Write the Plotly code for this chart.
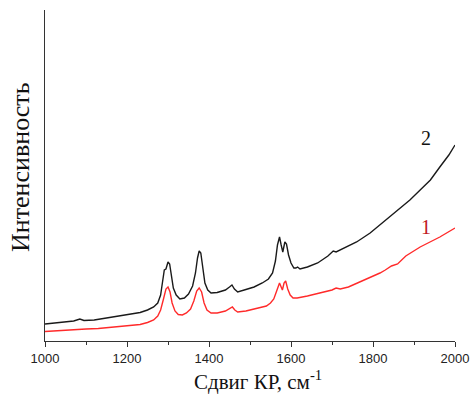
import plotly.graph_objects as go

# Raman shift (cm^-1) and intensity (arbitrary units)
shift_2 = [1000, 1040, 1070, 1085, 1095, 1120, 1160, 1200, 1232, 1250, 1265, 1275, 1282, 1287,
           1291, 1295, 1300, 1304, 1308, 1313, 1320, 1329, 1340, 1350, 1360, 1367, 1372, 1376,
           1380, 1385, 1390, 1397, 1405, 1420, 1440, 1450, 1456, 1462, 1470, 1490, 1510, 1530,
           1545, 1555, 1562, 1567, 1572, 1576, 1580, 1585, 1589, 1594, 1600, 1607, 1612, 1616,
           1622, 1640, 1665, 1690, 1703, 1710, 1720, 1740, 1760, 1793, 1817, 1840, 1866, 1890,
           1915, 1940, 1963, 1985, 2000]
intensity_2 = [17, 18.5, 20, 22, 20.5, 21, 23.5, 26.5, 28.5, 31, 34, 38, 46, 60,
               71, 72, 79, 77, 66, 53, 46, 42, 43, 47, 55, 68, 83, 90,
               88, 72, 58, 51, 48, 48.5, 51, 54, 56, 52, 49, 51.5, 54, 58,
               62, 68, 80, 96, 104, 96, 89, 99, 97, 86, 78, 73, 73, 74,
               72, 74, 78, 85, 90, 89, 91, 95, 99, 108, 116, 124, 133, 141,
               151, 161, 174, 186, 196]

shift_1 = [1000, 1040, 1080, 1090, 1100, 1130, 1160, 1200, 1232, 1250, 1265, 1275, 1282, 1289,
           1295, 1300, 1305, 1310, 1317, 1325, 1335, 1345, 1355, 1363, 1370, 1376, 1382, 1388,
           1395, 1405, 1420, 1440, 1450, 1457, 1463, 1470, 1490, 1520, 1540, 1550, 1558, 1565,
           1572, 1576, 1579, 1583, 1587, 1592, 1598, 1605, 1615, 1640, 1670, 1700, 1710, 1720,
           1740, 1768, 1793, 1817, 1830, 1845, 1860, 1880, 1915, 1963, 2000]
intensity_1 = [9.5, 10.5, 12, 12.5, 12, 12.5, 13.5, 15, 16.5, 18.5, 21, 25, 31, 42,
               52, 54, 49, 38, 30, 26.5, 26, 28, 32, 40, 50, 53, 49, 38,
               31, 28, 28, 30, 32, 34, 31, 29, 30, 33, 35, 38, 42, 50,
               58, 54, 51, 58, 60, 52, 46, 43, 43, 45, 48, 51, 53, 52,
               54, 59, 64, 68, 71, 75, 77, 85, 94, 104, 113]

x_ticks = [1000, 1200, 1400, 1600, 1800, 2000]
x_title = "Сдвиг КР, см<sup>-1</sup>"
y_title = "Интенсивность"
labels = ["1", "2"]

W, H = 471, 394
L, T = 45, 10
R, B = W - 455, H - 341
plot_w = W - L - R
plot_h = H - T - B


def px_x(p):
    return (p - L) / plot_w


def px_y(p):
    return (H - B - p) / plot_h


fig = go.Figure()
fig.add_trace(go.Scatter(x=shift_2, y=intensity_2, mode="lines",
                         line=dict(color="#1a1a1a", width=1.4), showlegend=False))
fig.add_trace(go.Scatter(x=shift_1, y=intensity_1, mode="lines",
                         line=dict(color="#ff2a2a", width=1.4), showlegend=False))

serif = "Liberation Serif, Times New Roman, serif"
fig.update_layout(
    width=W, height=H,
    margin=dict(l=L, r=R, t=T, b=B),
    paper_bgcolor="white", plot_bgcolor="white",
    xaxis=dict(range=[1000, 2000], tickvals=x_ticks, ticks="outside", ticklen=5,
               tickcolor="#333", tickwidth=1, showline=True, linecolor="#333", linewidth=1,
               showgrid=False, zeroline=False, automargin=False,
               tickfont=dict(family="Liberation Sans, Arial, sans-serif", size=13, color="#222"),
               minor=dict(dtick=100, tick0=1000, ticks="outside", ticklen=3, tickcolor="#333",
                          showgrid=False)),
    yaxis=dict(range=[0, 331], showline=True, linecolor="#333", linewidth=1, automargin=False,
               showticklabels=False, ticks="", showgrid=False, zeroline=False),
    annotations=[
        dict(text=x_title, x=px_x(258), y=px_y(380), xref="paper", yref="paper",
             xanchor="center", yanchor="middle", showarrow=False,
             font=dict(family=serif, size=21, color="#111")),
        dict(text=y_title, x=px_x(20), y=px_y(167), xref="paper", yref="paper",
             xanchor="center", yanchor="middle",
             showarrow=False, textangle=-90, font=dict(family=serif, size=26, color="#111")),
        dict(text=labels[1], x=1930, y=203, xref="x", yref="y", showarrow=False,
             font=dict(family=serif, size=20, color="#111")),
        dict(text=labels[0], x=1930, y=114, xref="x", yref="y", showarrow=False,
             font=dict(family=serif, size=20, color="#c0181e")),
    ],
)

fig.write_html("out.html", config={"displayModeBar": False},
               post_script="document.body.style.margin='0';document.body.style.overflow='hidden';")
